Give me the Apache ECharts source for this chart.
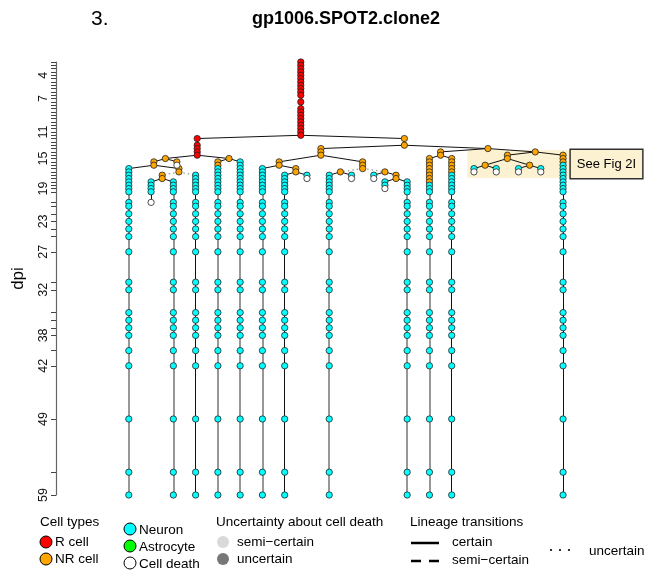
<!DOCTYPE html>
<html><head><meta charset="utf-8">
<script src="https://cdn.jsdelivr.net/npm/echarts@6/dist/echarts.min.js"></script>
<style>html,body{margin:0;padding:0;background:#fff}#c{width:648px;height:584px}</style>
</head><body><div id="c"></div>
<script>
// ---------------- DATA ----------------
// observation time points (dpi); nodes refer to these by index
const OBS = [2.03,2.47,2.91,3.34,3.78,4.22,4.66,5.10,5.53,5.97,6.41,6.85,7.29,7.72,8.16,8.60,9.04,9.48,9.91,10.35,
  10.79,11.23,11.67,12.10,12.54,12.98,13.42,13.86,14.29,14.73,15.17,15.61,16.05,16.49,16.92,17.36,17.80,18.24,18.68,19.11,
  20.5,21,22,23,24,25,27,31,32,35,36,37,38,40,42,49,56,59];
// y-axis labels
const yLabelValues = [3.78, 6.85, 11.23, 14.73, 18.68, 23, 27, 32, 38, 42, 49, 59];
const yLabelTexts  = ['4','7','11','15','19','23','27','32','38','42','49','59'];
// leaf positions in the lineage layout (leaf order units)
const leafPos = {A:0,B:1,C:2,D:3,E:2.16,F:4,G:5,H:6,I:7,J:8,K:9,L:10,M:11,N:11.5,O:12.5,P:13.5,Q:14.5,S1:15.5,S2:16.5,S3:17.5,S4:18.5,T:19.5};
// cell types: R = R cell, NR = NR cell, N = neuron, D = cell death
// segs: [firstObsIndex, lastObsIndex, type]; edge: transition from parent; track: certainty of own track
const branches = [
 {id:'root', parent:null, segs:[[0,10,'R'],[12,12,'R'],[14,22,'R']]},
 {id:'L1', parent:'root', segs:[[23,23,'R'],[25,28,'R']]},
 {id:'L2a', parent:'L1', segs:[[29,29,'NR']]},
 {id:'L3a', parent:'L2a', segs:[[30,31,'NR']]},
 {id:'A', parent:'L3a', segs:[[32,57,'N']], track:'semi'},
 {id:'L4', parent:'L3a', segs:[[32,33,'NR']]},
 {id:'L5', parent:'L4', segs:[[34,35,'NR']], edge:'uncertain'},
 {id:'B', parent:'L5', segs:[[36,39,'N'],[40,40,'D']]},
 {id:'C', parent:'L5', segs:[[36,57,'N']], track:'semi'},
 {id:'D', parent:'L4', segs:[[34,57,'N']], edge:'uncertain'},
 {id:'E', parent:'L2a', segs:[[30,30,'NR'],[31,31,'D']]},
 {id:'L2b', parent:'L1', segs:[[29,29,'NR']]},
 {id:'F', parent:'L2b', segs:[[30,31,'NR'],[32,57,'N']], track:'semi'},
 {id:'G', parent:'L2b', segs:[[30,57,'N']], track:'semi'},
 {id:'R1', parent:'root', segs:[[23,23,'NR'],[25,25,'NR']]},
 {id:'R2', parent:'R1', segs:[[26,28,'NR']]},
 {id:'R2a', parent:'R2', segs:[[30,31,'NR']]},
 {id:'H', parent:'R2a', segs:[[32,57,'N']], track:'semi'},
 {id:'R2a2', parent:'R2a', segs:[[32,33,'NR']]},
 {id:'I', parent:'R2a2', segs:[[34,57,'N']]},
 {id:'J', parent:'R2a2', segs:[[34,34,'N'],[35,35,'D']]},
 {id:'R2b', parent:'R2', segs:[[30,32,'NR']]},
 {id:'R2b1', parent:'R2b', segs:[[33,33,'NR']], edge:'uncertain'},
 {id:'K', parent:'R2b1', segs:[[34,57,'N']], track:'semi'},
 {id:'L', parent:'R2b1', segs:[[34,34,'N'],[35,35,'D']]},
 {id:'R2b2', parent:'R2b', segs:[[33,33,'NR']], edge:'uncertain'},
 {id:'M', parent:'R2b2', segs:[[34,34,'N'],[35,35,'D']]},
 {id:'R2b3', parent:'R2b2', segs:[[34,35,'NR']]},
 {id:'N', parent:'R2b3', segs:[[36,37,'N'],[38,38,'D']]},
 {id:'O', parent:'R2b3', segs:[[36,57,'N']], track:'semi'},
 {id:'R3', parent:'R1', segs:[[26,26,'NR']]},
 {id:'R4', parent:'R3', segs:[[27,28,'NR']]},
 {id:'P', parent:'R4', segs:[[29,36,'NR'],[37,57,'N']], track:'semi'},
 {id:'Q', parent:'R4', segs:[[29,33,'NR'],[34,57,'N']]},
 {id:'R5', parent:'R3', segs:[[27,27,'NR']]},
 {id:'R6', parent:'R5', segs:[[28,29,'NR']]},
 {id:'R7', parent:'R6', segs:[[31,31,'NR']]},
 {id:'S1', parent:'R7', segs:[[32,32,'N'],[33,33,'D']]},
 {id:'S2', parent:'R7', segs:[[32,32,'N'],[33,33,'D']]},
 {id:'R8', parent:'R6', segs:[[31,31,'NR']]},
 {id:'S3', parent:'R8', segs:[[32,32,'N'],[33,33,'D']]},
 {id:'S4', parent:'R8', segs:[[32,32,'N'],[33,33,'D']]},
 {id:'T', parent:'R5', segs:[[28,30,'NR'],[31,57,'N']]}
];
// highlighted sub-lineage (layout units, dpi)
const hiliteX = [15.2, 19.85];
const hiliteDpi = [13.6, 17.3];
const hiliteText = 'See Fig 2I';

// ---------------- STYLE ----------------
const FONT = 'Liberation Sans, Arial, Helvetica, sans-serif';
const TYPE_COLOR = {R:'#FF0000', NR:'#FFA500', N:'#00FFFF', A:'#00FF00', D:'#FFFFFF'};

// ---------------- LAYOUT ----------------
const byId = {}; branches.forEach(b => { byId[b.id] = b; b.children = []; });
branches.forEach(b => { if (b.parent) byId[b.parent].children.push(b); });
function xOf(b){
  if (b.x !== undefined) return b.x;
  if (b.children.length === 0) b.x = leafPos[b.id];
  else { const xs = b.children.map(xOf); b.x = (xs[0] + xs[xs.length-1]) / 2; }
  return b.x;
}
branches.forEach(xOf);
function nodeList(b){ const out=[]; b.segs.forEach(s => { for (let k=s[0]; k<=s[1]; k++) out.push([k, s[2]]); }); return out; }

const scatterData = [], edgeCertain = [], edgeUncertain = [], trackBlack = [], trackGrey = [];
branches.forEach(b => {
  const nl = nodeList(b);
  b.first = OBS[nl[0][0]]; b.last = OBS[nl[nl.length-1][0]];
  nl.forEach(n => scatterData.push({value:[b.x, OBS[n[0]]], itemStyle:{color:TYPE_COLOR[n[1]]}}));
  if (nl.length > 1) (b.track === 'semi' ? trackGrey : trackBlack).push({coords:[[b.x,b.first],[b.x,b.last]]});
});
branches.forEach(b => {
  if (!b.parent) return;
  const p = byId[b.parent];
  (b.edge === 'uncertain' ? edgeUncertain : edgeCertain).push({coords:[[p.x,p.last],[b.x,b.first]]});
});

const labelMap = {}; yLabelValues.forEach((v,i) => labelMap[String(v)] = yLabelTexts[i]);

// ---------------- CHART ----------------
const chart = echarts.init(document.getElementById('c'), null, {renderer:'canvas'});
const legendText = (x, y, t, extra) => Object.assign({type:'text', x, y, silent:true,
  style:{text:t, font:'13.5px ' + FONT, fill:'#000', align:'left', verticalAlign:'middle'}}, extra||{});
const legendCircle = (cx, cy, fill, stroke) => ({type:'circle', silent:true, shape:{cx, cy, r:6},
  style:{fill, stroke: stroke || null, lineWidth: stroke ? 1 : 0}});

chart.setOption({
  animation:false,
  backgroundColor:'#fff',
  grid:{left:62, top:62, width:579, height:433, containLabel:false},
  xAxis:{type:'value', min:-3, max:23, show:false},
  yAxis:{type:'value', inverse:true, min:OBS[0], max:OBS[OBS.length-1], offset:6, position:'left',
    name:'dpi', nameLocation:'middle', nameGap:29, nameRotate:90,
    nameTextStyle:{fontSize:17, fontFamily:FONT, color:'#000'},
    axisLine:{show:true, onZero:false, lineStyle:{color:'#666', width:1.2}},
    axisTick:{show:true, customValues:OBS, length:5, lineStyle:{color:'#444', width:1}},
    axisLabel:{show:true, customValues:yLabelValues, formatter:v => labelMap[String(v)] || '',
      rotate:90, fontSize:12.5, fontFamily:FONT, color:'#111', margin:6},
    splitLine:{show:false}},
  series:[
    {type:'lines', coordinateSystem:'cartesian2d', silent:true, z:1, data:trackGrey,
      lineStyle:{color:'#8c8c8c', width:1.8, opacity:1}},
    {type:'lines', coordinateSystem:'cartesian2d', silent:true, z:1, data:trackBlack,
      lineStyle:{color:'#111', width:1, opacity:1}},
    {type:'lines', coordinateSystem:'cartesian2d', silent:true, z:1, data:edgeCertain,
      lineStyle:{color:'#111', width:1, opacity:1}},
    {type:'lines', coordinateSystem:'cartesian2d', silent:true, z:1, data:edgeUncertain,
      lineStyle:{color:'#9a9a9a', width:1.3, type:[1.5,3], opacity:1}},
    {type:'scatter', silent:true, z:3, symbol:'circle', symbolSize:6.3, data:scatterData,
      itemStyle:{borderColor:'#222', borderWidth:0.8, opacity:1},
      markArea:{silent:true, z:0, itemStyle:{color:'#FCF1D0'},
        label:{show:true, position:'right', distance:0, color:'#000', fontSize:13, fontFamily:FONT,
          backgroundColor:'#FCF1D0', borderColor:'#333', borderWidth:1.5, padding:[8,6,7,6]},
        data:[[{name:hiliteText, coord:[hiliteX[0], hiliteDpi[0]]}, {coord:[hiliteX[1], hiliteDpi[1]]}]]}}
  ],
  graphic:[
    {type:'text', x:346, y:19, silent:true, style:{text:'gp1006.SPOT2.clone2', font:'bold 18px ' + FONT, fill:'#000', align:'center', verticalAlign:'middle'}},
    {type:'text', x:91, y:19, silent:true, style:{text:'3.', font:'21px ' + FONT, fill:'#000', align:'left', verticalAlign:'middle'}},
    // legend: cell types
    legendText(40, 522, 'Cell types'),
    legendCircle(46, 542, TYPE_COLOR.R, '#000'), legendText(55, 542, 'R cell'),
    legendCircle(46, 559, TYPE_COLOR.NR, '#000'), legendText(55, 559, 'NR cell'),
    legendCircle(130, 529, TYPE_COLOR.N, '#000'), legendText(139, 530, 'Neuron'),
    legendCircle(130, 546, TYPE_COLOR.A, '#000'), legendText(139, 547, 'Astrocyte'),
    legendCircle(130, 563, TYPE_COLOR.D, '#000'), legendText(139, 564, 'Cell death'),
    // uncertainty about cell death
    legendText(216, 522, 'Uncertainty about cell death'),
    legendCircle(223, 542, '#D9D9D9'), legendText(237, 542, 'semi\u2212certain'),
    legendCircle(223, 559, '#777777'), legendText(237, 559, 'uncertain'),
    // lineage transitions
    legendText(410, 522, 'Lineage transitions'),
    {type:'line', silent:true, shape:{x1:411, y1:543, x2:439, y2:543}, style:{stroke:'#000', lineWidth:2.5}},
    legendText(452, 542, 'certain'),
    {type:'line', silent:true, shape:{x1:411, y1:561, x2:439, y2:561}, style:{stroke:'#000', lineWidth:2.5, lineDash:[10,8]}},
    legendText(452, 560, 'semi\u2212certain'),
    {type:'circle', silent:true, shape:{cx:551, cy:550, r:1.1}, style:{fill:'#000'}},
    {type:'circle', silent:true, shape:{cx:560, cy:550, r:1.1}, style:{fill:'#000'}},
    {type:'circle', silent:true, shape:{cx:569, cy:550, r:1.1}, style:{fill:'#000'}},
    legendText(589, 551, 'uncertain')
  ]
});
</script></body></html>
